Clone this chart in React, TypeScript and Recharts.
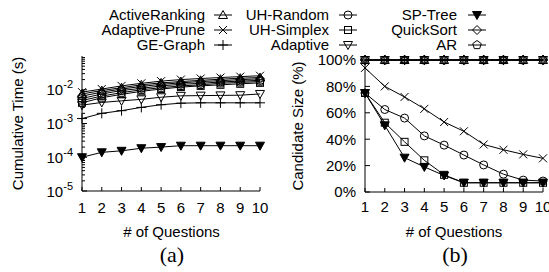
import React from "react";
import { LineChart, Line, XAxis, YAxis } from "recharts";

const questions = [1, 2, 3, 4, 5, 6, 7, 8, 9, 10];

// (a) cumulative time (s)
const timeActiveRanking = [7.5e-3, 9.5e-3, 1.15e-2, 1.4e-2, 1.6e-2, 1.75e-2, 1.9e-2, 2.05e-2, 2.2e-2, 2.3e-2];
const timeAdaptivePrune = [8.5e-3, 1.05e-2, 1.3e-2, 1.55e-2, 1.8e-2, 2.0e-2, 2.15e-2, 2.3e-2, 2.45e-2, 2.6e-2];
const timeGEGraph = [1.4e-3, 2.0e-3, 2.4e-3, 3.0e-3, 3.6e-3, 4.0e-3, 4.1e-3, 4.1e-3, 4.1e-3, 4.1e-3];
const timeUHRandom = [5.5e-3, 7.5e-3, 9.5e-3, 1.1e-2, 1.3e-2, 1.45e-2, 1.55e-2, 1.7e-2, 1.8e-2, 1.9e-2];
const timeUHSimplex = [4.1e-3, 5.8e-3, 7.3e-3, 9.0e-3, 1.05e-2, 1.2e-2, 1.3e-2, 1.4e-2, 1.5e-2, 1.6e-2];
const timeAdaptive = [3.5e-3, 4.2e-3, 4.7e-3, 5.2e-3, 6.0e-3, 6.6e-3, 6.7e-3, 6.8e-3, 6.9e-3, 7.5e-3];
const timeSPTree = [1.0e-4, 1.4e-4, 1.55e-4, 1.85e-4, 2.0e-4, 2.2e-4, 2.2e-4, 2.2e-4, 2.2e-4, 2.2e-4];
const timeQuickSort = [6.5e-3, 8.5e-3, 1.05e-2, 1.25e-2, 1.45e-2, 1.6e-2, 1.75e-2, 1.85e-2, 2.0e-2, 2.1e-2];
const timeAR = [4.8e-3, 6.5e-3, 8.2e-3, 1.0e-2, 1.15e-2, 1.3e-2, 1.4e-2, 1.55e-2, 1.65e-2, 1.75e-2];

// (b) candidate size (%)
const sizeActiveRanking = [100, 100, 100, 100, 100, 100, 100, 100, 100, 100];
const sizeAdaptivePrune = [94, 80, 72, 63, 53, 46, 36, 32, 28.5, 25.5];
const sizeGEGraph = [100, 100, 100, 100, 100, 100, 100, 100, 100, 100];
const sizeUHRandom = [75, 62.5, 56, 42.5, 35.5, 28, 20.5, 13.5, 9, 8.3];
const sizeUHSimplex = [75, 52.5, 38, 24, 13, 7, 7, 7, 7, 7];
const sizeAdaptive = [100, 100, 100, 100, 100, 100, 100, 100, 100, 100];
const sizeSPTree = [75, 50.5, 26, 19, 12.5, 7, 7, 7, 7, 7];
const sizeQuickSort = [100, 100, 100, 100, 100, 100, 100, 100, 100, 100];
const sizeAR = [100, 100, 100, 100, 100, 100, 100, 100, 100, 100];

const logMajorTicks = [1e-5, 1e-4, 1e-3, 1e-2];
const logMinorTicks = [1e-5, 1e-4, 1e-3, 1e-2].flatMap((d) => [2, 3, 4, 5, 6, 7, 8, 9].map((m) => m * d));
const logTicks = [...logMajorTicks, ...logMinorTicks].sort((a, b) => a - b);
const pctTicks = [0, 20, 40, 60, 80, 100];

type Shape = "triUp" | "cross" | "plus" | "circle" | "square" | "triDown" | "triDownFilled" | "diamond" | "pentagon";

const series: { key: string; name: string; shape: Shape; time: number[]; size: number[] }[] = [
  { key: "activeRanking", name: "ActiveRanking", shape: "triUp", time: timeActiveRanking, size: sizeActiveRanking },
  { key: "adaptivePrune", name: "Adaptive-Prune", shape: "cross", time: timeAdaptivePrune, size: sizeAdaptivePrune },
  { key: "geGraph", name: "GE-Graph", shape: "plus", time: timeGEGraph, size: sizeGEGraph },
  { key: "uhRandom", name: "UH-Random", shape: "circle", time: timeUHRandom, size: sizeUHRandom },
  { key: "uhSimplex", name: "UH-Simplex", shape: "square", time: timeUHSimplex, size: sizeUHSimplex },
  { key: "adaptive", name: "Adaptive", shape: "triDown", time: timeAdaptive, size: sizeAdaptive },
  { key: "spTree", name: "SP-Tree", shape: "triDownFilled", time: timeSPTree, size: sizeSPTree },
  { key: "quickSort", name: "QuickSort", shape: "diamond", time: timeQuickSort, size: sizeQuickSort },
  { key: "ar", name: "AR", shape: "pentagon", time: timeAR, size: sizeAR },
];

const timeData = questions.map((q, i) => {
  const row: Record<string, number> = { q };
  series.forEach((s) => (row[s.key] = s.time[i]));
  return row;
});
const sizeData = questions.map((q, i) => {
  const row: Record<string, number> = { q };
  series.forEach((s) => (row[s.key] = s.size[i]));
  return row;
});

const FONT = '"Liberation Sans", Arial, Helvetica, sans-serif';
const SERIF = '"Liberation Serif", "Times New Roman", serif';

function Mark({ shape, cx, cy }: { shape: Shape; cx: number; cy: number }) {
  const st = { stroke: "#000", strokeWidth: 1, fill: "none" };
  const r = 4;
  switch (shape) {
    case "triUp":
      return <polygon points={`${cx},${cy - 4.5} ${cx + 4.5},${cy + 3.5} ${cx - 4.5},${cy + 3.5}`} {...st} />;
    case "triDown":
      return <polygon points={`${cx - 4.5},${cy - 3.5} ${cx + 4.5},${cy - 3.5} ${cx},${cy + 4.5}`} {...st} />;
    case "triDownFilled":
      return <polygon points={`${cx - 4.5},${cy - 3.5} ${cx + 4.5},${cy - 3.5} ${cx},${cy + 4.5}`} {...st} fill="#000" />;
    case "cross":
      return <path d={`M${cx - r},${cy - r}L${cx + r},${cy + r}M${cx - r},${cy + r}L${cx + r},${cy - r}`} {...st} />;
    case "plus":
      return <path d={`M${cx - 5},${cy}L${cx + 5},${cy}M${cx},${cy - 5}L${cx},${cy + 5}`} {...st} />;
    case "circle":
      return <circle cx={cx} cy={cy} r={r} {...st} />;
    case "square":
      return <rect x={cx - 3.5} y={cy - 3.5} width={7} height={7} {...st} />;
    case "diamond":
      return <polygon points={`${cx},${cy - 4.5} ${cx + 4.5},${cy} ${cx},${cy + 4.5} ${cx - 4.5},${cy}`} {...st} />;
    case "pentagon": {
      const pts = [0, 1, 2, 3, 4]
        .map((k) => {
          const a = -Math.PI / 2 + (k * 2 * Math.PI) / 5;
          return `${cx + 4.5 * Math.cos(a)},${cy + 4.5 * Math.sin(a)}`;
        })
        .join(" ");
      return <polygon points={pts} {...st} />;
    }
  }
  return null;
}

const isMajor = (v: number) => logMajorTicks.some((t) => Math.abs(t - v) / t < 1e-6);

const LOG_MARGIN = 9;

function LogTickLeft(props: any) {
  const { x, y, payload } = props;
  const edge = x + LOG_MARGIN;
  const major = isMajor(payload.value);
  const exp = Math.round(Math.log10(payload.value));
  return (
    <g>
      <line x1={edge} x2={edge + (major ? 5 : 3)} y1={y} y2={y} stroke="#000" strokeWidth={1} />
      {major && (
        <text x={x} y={y + 5.5} textAnchor="end" fontFamily={FONT} fontSize={15} fill="#000">
          <tspan>10</tspan>
          <tspan dy={-7} fontSize={11}>{exp}</tspan>
        </text>
      )}
    </g>
  );
}

function LogTickRight(props: any) {
  const { x, y, payload } = props;
  const major = isMajor(payload.value);
  return <line x1={x} x2={x - (major ? 5 : 3)} y1={y} y2={y} stroke="#000" strokeWidth={1} />;
}

const tickFont = { fontSize: 15, fill: "#000", fontFamily: FONT };

function renderLines() {
  return series.map((s) => (
    <Line
      key={s.key}
      dataKey={s.key}
      type="linear"
      stroke="#000"
      strokeWidth={1}
      isAnimationActive={false}
      activeDot={false}
      dot={(p: any) =>
        p.cx == null || p.cy == null ? (
          <g key={`${s.key}-${p.index}`} />
        ) : (
          <g key={`${s.key}-${p.index}`}>
            <Mark shape={s.shape} cx={p.cx} cy={p.cy} />
          </g>
        )
      }
    />
  ));
}

export default function App() {
  return (
    <div style={{ position: "absolute", left: 0, top: 0, width: 549, height: 272, background: "#fff", overflow: "hidden" }}>
      <div style={{ position: "absolute", left: 0, top: 0 }}>
        <LineChart width={275} height={272} data={timeData} margin={{ top: 56, right: 15, bottom: 51, left: 32 }}>
          <XAxis
            dataKey="q"
            type="number"
            domain={[1, 10]}
            ticks={questions}
            interval={0}
            height={30}
            tickSize={-4}
            tickMargin={15}
            tick={tickFont}
            axisLine={{ stroke: "#000" }}
            tickLine={{ stroke: "#000" }}
          />
          <XAxis
            xAxisId="top"
            dataKey="q"
            type="number"
            orientation="top"
            domain={[1, 10]}
            ticks={questions}
            interval={0}
            height={0}
            tickSize={-4}
            tick={false}
            axisLine={{ stroke: "#000" }}
            tickLine={{ stroke: "#000" }}
          />
          <YAxis
            type="number"
            scale="log"
            domain={[1e-5, 1e-1]}
            ticks={logTicks}
            interval={0}
            width={50}
            tickSize={0}
            tickMargin={LOG_MARGIN}
            tickLine={false}
            tick={<LogTickLeft />}
            axisLine={{ stroke: "#000" }}
          />
          <YAxis
            yAxisId="right"
            orientation="right"
            type="number"
            scale="log"
            domain={[1e-5, 1e-1]}
            ticks={logTicks}
            interval={0}
            width={0}
            tickSize={0}
            tickMargin={0}
            tickLine={false}
            tick={<LogTickRight />}
            axisLine={{ stroke: "#000" }}
          />
          {renderLines()}
        </LineChart>
      </div>
      <div style={{ position: "absolute", left: 275, top: 0 }}>
        <LineChart width={274} height={272} data={sizeData} margin={{ top: 60, right: 6, bottom: 50, left: 40 }}>
          <XAxis
            dataKey="q"
            type="number"
            domain={[1, 10]}
            ticks={questions}
            interval={0}
            height={30}
            tickSize={-4}
            tickMargin={13}
            tick={tickFont}
            axisLine={{ stroke: "#000" }}
            tickLine={{ stroke: "#000" }}
          />
          <XAxis
            xAxisId="top"
            dataKey="q"
            type="number"
            orientation="top"
            domain={[1, 10]}
            ticks={questions}
            interval={0}
            height={0}
            tickSize={-4}
            tick={false}
            axisLine={{ stroke: "#000" }}
            tickLine={{ stroke: "#000" }}
          />
          <YAxis
            type="number"
            domain={[0, 100]}
            ticks={pctTicks}
            interval={0}
            width={50}
            tickSize={-5}
            tickMargin={14}
            tick={tickFont}
            tickFormatter={(v: number) => `${v}%`}
            axisLine={{ stroke: "#000" }}
            tickLine={{ stroke: "#000" }}
          />
          <YAxis
            yAxisId="right"
            orientation="right"
            type="number"
            domain={[0, 100]}
            ticks={pctTicks}
            interval={0}
            width={0}
            tickSize={-5}
            tick={false}
            axisLine={{ stroke: "#000" }}
            tickLine={{ stroke: "#000" }}
          />
          {renderLines()}
        </LineChart>
      </div>
      <svg width={549} height={272} style={{ position: "absolute", left: 0, top: 0, pointerEvents: "none" }}>
        {series.map((s, i) => {
          const col = Math.floor(i / 3);
          const row = i % 3;
          const textRight = [205, 329, 457][col];
          const sample = [223, 348, 477][col];
          const y = [15, 30, 45][row];
          return (
            <g key={s.key}>
              <text x={textRight} y={y + 5.3} textAnchor="end" fontFamily={FONT} fontSize={15} fill="#000">
                {s.name}
              </text>
              <line x1={sample - 9} x2={sample + 9} y1={y} y2={y} stroke="#000" strokeWidth={1} />
              <Mark shape={s.shape} cx={sample} cy={y} />
            </g>
          );
        })}
        <text transform="translate(17.5,123.5) rotate(-90)" textAnchor="middle" dominantBaseline="central" fontFamily={FONT} fontSize={15}>
          Cumulative Time (s)
        </text>
        <text transform="translate(297.5,126) rotate(-90)" textAnchor="middle" dominantBaseline="central" fontFamily={FONT} fontSize={15}>
          Candidate Size (%)
        </text>
        <text x={171.5} y={236.5} textAnchor="middle" fontFamily={FONT} fontSize={15}>
          # of Questions
        </text>
        <text x={454} y={236.5} textAnchor="middle" fontFamily={FONT} fontSize={15}>
          # of Questions
        </text>
        <text x={172} y={262} textAnchor="middle" fontFamily={SERIF} fontSize={22}>
          (a)
        </text>
        <text x={455} y={262} textAnchor="middle" fontFamily={SERIF} fontSize={22}>
          (b)
        </text>
      </svg>
    </div>
  );
}
